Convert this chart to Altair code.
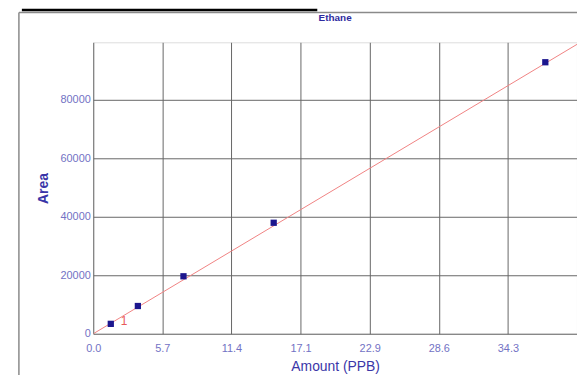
import altair as alt
import pandas as pd

# Data
amount = [1.45, 3.69, 7.46, 14.92, 37.38]
area = [3390, 9490, 19660, 37970, 92880]
fit_x = [0, 40]
fit_y = [0, 99000]
x_ticks = [0, 40/7, 80/7, 120/7, 160/7, 200/7, 240/7, 40]
y_ticks = [0, 20000, 40000, 60000, 80000]
label_pt = {"x": 2.54, "y": 4400, "t": "1"}
chart_title = "Ethane"

FONT = "Liberation Sans"
pts = pd.DataFrame({"amount": amount, "area": area})
fit = pd.DataFrame({"amount": fit_x, "area": fit_y})
lab = pd.DataFrame([label_pt])

xs = alt.Scale(domain=[0, 40], nice=False, zero=False)
ys = alt.Scale(domain=[0, 99700], nice=False, zero=False)

xaxis = alt.Axis(values=x_ticks, labelExpr="datum.value >= 39 ? '' : format(datum.value, '.1f')",
                 title="Amount (PPB)", grid=True, gridColor="#666666", gridOpacity=1,
                 tickSize=0, domain=False, labelColor="#7272c4", labelFont=FONT, labelFontSize=11,
                 labelPadding=9, titleFont=FONT, titleFontSize=14, titleFontWeight="normal",
                 titleColor="#3a36a8", titlePadding=6, labelFlush=False)
yaxis = alt.Axis(values=y_ticks, format="d", title="Area", grid=True, gridColor="#666666", gridOpacity=1,
                 tickSize=0, domain=False, labelColor="#7272c4", labelFont=FONT, labelFontSize=11,
                 labelPadding=3, titleFont=FONT, titleFontSize=14, titleFontWeight="bold",
                 titleColor="#3a36a8", titlePadding=10)

line = alt.Chart(fit).mark_line(color="#f08282", strokeWidth=1, clip=True).encode(
    x=alt.X("amount:Q", scale=xs, axis=xaxis),
    y=alt.Y("area:Q", scale=ys, axis=yaxis),
)
points = alt.Chart(pts).mark_square(color="#1c168e", opacity=1, size=40).encode(
    x=alt.X("amount:Q", scale=xs),
    y=alt.Y("area:Q", scale=ys),
)
text = alt.Chart(lab).mark_text(color="#e85a5a", font=FONT, fontSize=12, align="center", baseline="middle").encode(
    x=alt.X("x:Q", scale=xs),
    y=alt.Y("y:Q", scale=ys),
    text="t:N",
)

one = alt.Data(values=[{"t": chart_title}])
frame_top = alt.Chart(one).mark_rule(color="#8a8a8a", strokeWidth=1.5).encode(
    x=alt.value(-75), x2=alt.value(600), y=alt.value(-30))
frame_left = alt.Chart(one).mark_rule(color="#8a8a8a", strokeWidth=1.5).encode(
    x=alt.value(-75), y=alt.value(-30), y2=alt.value(345))
bar = alt.Chart(one).mark_rule(color="#000000", strokeWidth=2.5).encode(
    x=alt.value(-72), x2=alt.value(226), y=alt.value(-32.5))
title = alt.Chart(one).mark_text(font=FONT, fontSize=10, fontWeight="bold", color="#2e2aa0",
                                 align="center", baseline="middle").encode(
    x=alt.value(244), y=alt.value(-25), text="t:N")

chart = alt.layer(frame_top, frame_left, bar, line, points, text, title).properties(
    width=488, height=294,
    autosize=alt.AutoSizeParams(type="none"),
    padding={"left": 86, "top": 33, "right": 0, "bottom": 40},
).configure_view(stroke="#666666", strokeWidth=1).configure(background="white")

chart.save("out.html", embed_options={"renderer": "svg", "actions": False})
